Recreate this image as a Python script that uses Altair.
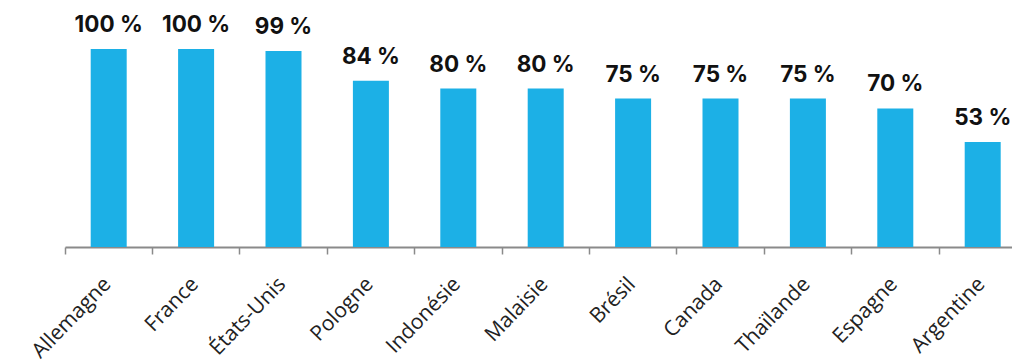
import altair as alt
import pandas as pd

countries = ["Allemagne", "France", "États-Unis", "Pologne", "Indonésie", "Malaisie",
             "Brésil", "Canada", "Thaïlande", "Espagne", "Argentine"]
values = [100, 100, 99, 84, 80, 80, 75, 75, 75, 70, 53]
labels = [f"{v} %" for v in values]

df = pd.DataFrame({"pays": countries, "valeur": values, "label": labels})

x = alt.X("pays:N", sort=countries, title=None,
          scale=alt.Scale(range=[0, 961.4], paddingInner=0, paddingOuter=0),
          axis=alt.Axis(labelAngle=314, labelAlign="right", labelBaseline="top",
                        labelFont="Open Sans", labelFontSize=21, labelColor="#222222",
                        labelPadding=19, labelOffset=-9, bandPosition=0,
                        tickColor="#8a8a8a", tickSize=7,
                        tickWidth=1.5, domainColor="#8a8a8a", domainWidth=2, labelOverlap=False))
y = alt.Y("valeur:Q", title=None, scale=alt.Scale(domain=[0, 100], nice=False), axis=None)

bars = alt.Chart(df).mark_bar(size=36, color="#1CB0E6").encode(x=x, y=y)
text = alt.Chart(df).mark_text(dy=-12, font="Inter", fontWeight="bold", fontSize=22.5,
                               color="#111111", baseline="bottom").encode(x=x, y=y, text="label:N")

chart = (bars + text).properties(
    width=947, height=198,
    autosize=alt.AutoSizeParams(type="none"),
    padding={"left": 65, "top": 49, "right": 0, "bottom": 114},
).configure_view(stroke=None)

chart.save("out.html", embed_options={"renderer": "svg", "actions": False})
